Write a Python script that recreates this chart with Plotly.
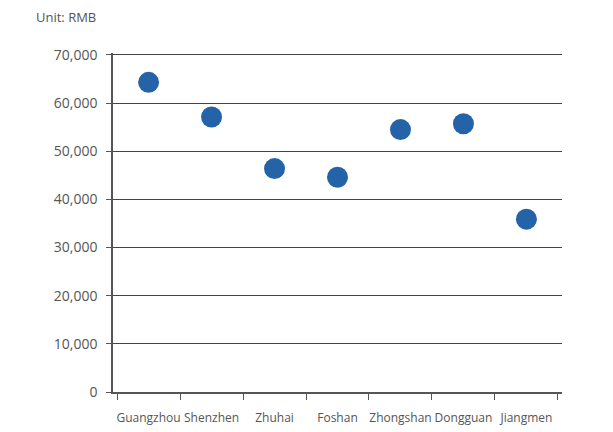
import plotly.graph_objects as go

# Cidades e valores (Unit: RMB)
cidades = ["Guangzhou", "Shenzhen", "Zhuhai", "Foshan", "Zhongshan", "Dongguan", "Jiangmen"]
valores = [64300, 57100, 46400, 44600, 54500, 55700, 35900]
y_ticks = [0, 10000, 20000, 30000, 40000, 50000, 60000, 70000]

fig = go.Figure(go.Scatter(
    x=cidades, y=valores, mode="markers",
    marker=dict(size=21, color="#2563a8"),
    showlegend=False,
))

fig.update_layout(
    width=613, height=432,
    margin=dict(l=105, r=59, t=45, b=48, autoexpand=False),
    paper_bgcolor="white", plot_bgcolor="white",
    font=dict(family="Open Sans", size=13, color="#555555"),
    xaxis=dict(
        showgrid=False,
        showline=True, linecolor="#555555", linewidth=1.5,
        ticks="outside", tickson="boundaries", ticklen=6, tickcolor="#555555",
        tickangle=0, tickfont=dict(size=12), ticklabelstandoff=14,
    ),
    yaxis=dict(
        range=[0, 70400], tickvals=y_ticks, tickformat=",",
        showgrid=True, gridcolor="#444444", gridwidth=1,
        zeroline=False,
        showline=True, linecolor="#555555", linewidth=1.5,
        ticks="outside", ticklen=5, tickcolor="#555555",
        tickfont=dict(size=14), ticklabelstandoff=6,
    ),
    annotations=[dict(
        text="Unit: RMB", xref="paper", yref="paper", x=-0.176, y=1.106,
        xanchor="left", yanchor="middle", showarrow=False,
        font=dict(size=13, color="#555555"),
    )],
)

fig.write_html("out.html")
